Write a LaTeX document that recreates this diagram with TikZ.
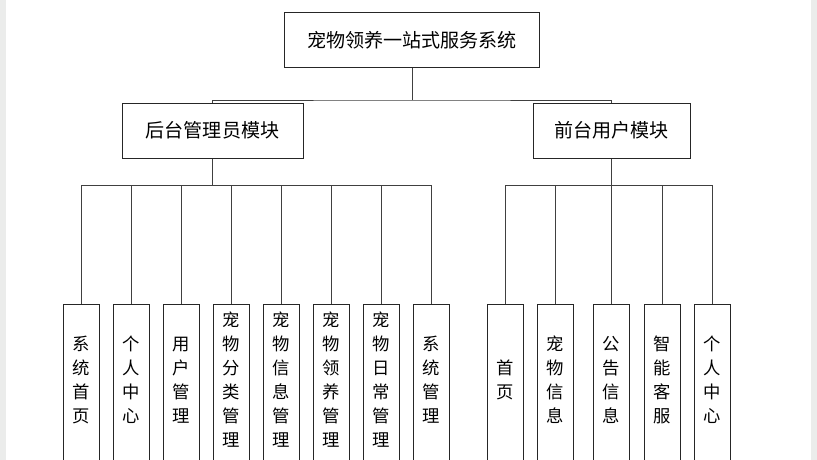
\documentclass[tikz,border=0pt]{standalone}
\usepackage{fontspec}
\setmainfont{Noto Sans CJK SC}
\begin{document}
\begin{tikzpicture}[x=0.75pt,y=-0.75pt,
  box/.style={draw=black!85,line width=0.75pt,fill=white,inner sep=0pt,font=\fontsize{14.3}{16}\selectfont},
  leaf/.style={box,minimum width=36*0.75pt,minimum height=170*0.75pt,anchor=north},
  lt/.style={align=center,inner sep=0pt,font=\fontsize{13}{18}\selectfont},
  ln/.style={draw=black!75,line width=0.7pt}]
\clip (0,0) rectangle (817,460);
\fill[white] (0,0) rectangle (817,460);
\fill[green!8!black!8] (0,0) rectangle (6,460);
\fill[green!8!black!8] (811,0) rectangle (817,460);
\node[box,minimum width=255*0.75pt,minimum height=55*0.75pt] (root) at (412,40.5) {宠物领养一站式服务系统};
\node[box,minimum width=181*0.75pt,minimum height=55*0.75pt] (adm) at (212.5,130.5) {后台管理员模块};
\node[box,minimum width=157*0.75pt,minimum height=55*0.75pt] (usr) at (611.5,130.5) {前台用户模块};
\coordinate (j0) at (412,100);
\draw[ln] (root.south) -- (j0);
\draw[ln] (adm.north) |- (j0) -| (usr.north);
\coordinate (jl) at (212.5,185);
\coordinate (jr) at (611.5,185);
\draw[ln] (adm.south) -- (jl);
\draw[ln] (usr.south) -- (jr);
\foreach \n/\x/\t in {a1/81/{系\\统\\首\\页},a2/131/{个\\人\\中\\心},a3/181/{用\\户\\管\\理},a4/231/{宠\\物\\分\\类\\管\\理},a5/281/{宠\\物\\信\\息\\管\\理},a6/331/{宠\\物\\领\\养\\管\\理},a7/381/{宠\\物\\日\\常\\管\\理},a8/431/{系\\统\\管\\理},b1/505/{首\\页},b2/555/{宠\\物\\信\\息},b3/611/{公\\告\\信\\息},b4/662/{智\\能\\客\\服},b5/712/{个\\人\\中\\心}}{
  \node[leaf] (\n) at (\x,304) {};
  \node[lt] (\n t) at (\x,380) {\t};
  \draw[ln] (\n.north) -- (\x,185);
}
\draw[ln] (a1.north |- jl) -- (a8.north |- jl);
\draw[ln] (b1.north |- jr) -- (b5.north |- jr);
\end{tikzpicture}
\end{document}
